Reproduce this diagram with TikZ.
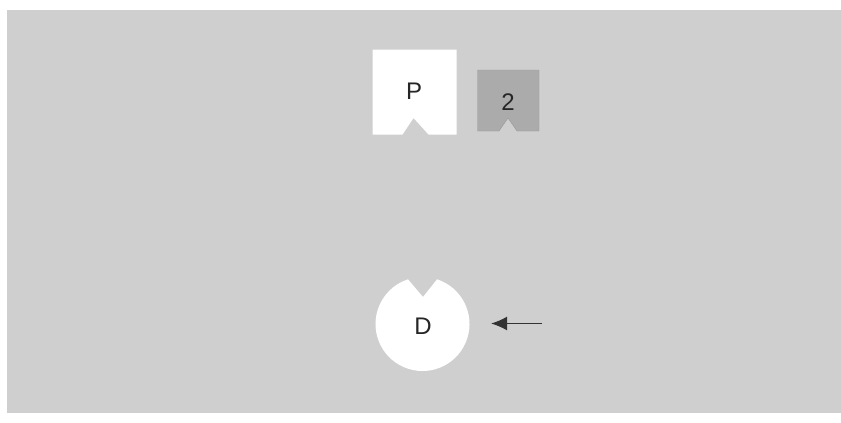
\documentclass[tikz,border=0pt]{standalone}
\usepackage{fontspec}
\setmainfont{Liberation Sans}
\usetikzlibrary{arrows.meta}
\begin{document}
\begin{tikzpicture}[x=1pt,y=-1pt,
  piece/.style={fill=white,draw=none},
  darkpiece/.style={fill=black!33,draw=black!40,line width=0.4pt},
  lbl/.style={font=\fontsize{24}{24}\selectfont,text=black!85},
  pointer/.style={draw=black!80,line width=1pt,-{Latex[length=16pt,width=14pt]}}
]
\useasboundingbox (0,0) rectangle (841,423);
\fill[white] (0,0) rectangle (841,423);
\fill[black!19] (7,10) rectangle (841,413);
% P block
\path[piece] (372.5,49.5) -- (456.5,49.5) -- (456.5,134.5) -- (428.5,134.5) -- (413.5,118) -- (402.5,134.5) -- (372.5,134.5) -- cycle;
\node[lbl] (P) at (414,91) {P};
% 2 block
\path[darkpiece] (477.5,70) -- (539,70) -- (539,131) -- (517,131) -- (508,118) -- (499,131) -- (477.5,131) -- cycle;
\node[lbl] (two) at (508,102) {2};
% D circle with notch
\coordinate (dc) at (422.5,324);
\path[piece] (dc) ++(-72:47) arc[start angle=-72,end angle=252,radius=47] -- (423,297) -- cycle;
\node[lbl] (D) at (423,326) {D};
\coordinate (tail) at (542,323.5);
\node[inner sep=0pt,minimum size=0pt] (tip) at (491,323.5) {};
\draw[pointer] (tail) -- (tip);
\end{tikzpicture}
\end{document}
